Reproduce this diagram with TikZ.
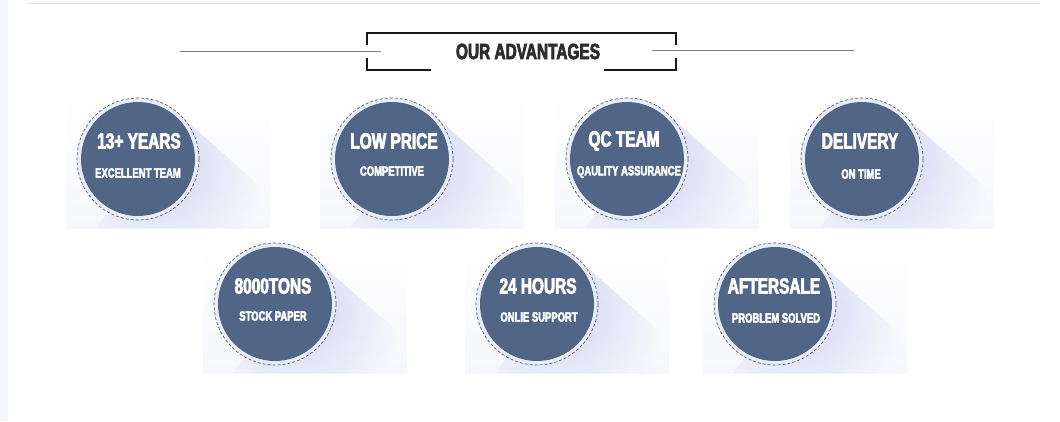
\documentclass[tikz,border=0pt]{standalone}
\usepackage{fontspec}
\setmainfont{Liberation Sans}
\newfontfamily\cond[FakeStretch=0.70,FakeBold=3.2]{Liberation Sans Bold}
\usetikzlibrary{calc,fadings}
\definecolor{disc}{HTML}{516587}
\definecolor{ringc}{HTML}{4F5868}
\definecolor{shadowc}{HTML}{CFD4F1}
\definecolor{haze}{HTML}{F1F2FB}
\definecolor{hazelow}{HTML}{F6F7FC}
\definecolor{halo}{HTML}{E9EDF8}
\definecolor{rulec}{HTML}{76828F}
\tikzfading[name=shadowfade,inner color=transparent!0,outer color=transparent!100]
\tikzset{
  x=1pt,y=1pt,
  discnode/.style={circle,fill=disc,draw=none,minimum size=114pt,inner sep=0pt},
  ringnode/.style={circle,draw=ringc,fill=halo,densely dashed,line width=0.65pt,minimum size=122pt,inner sep=0pt},
  bigtext/.style={text=white,font=\cond\fontsize{22}{24}\selectfont,inner sep=0pt},
  smalltext/.style={text=white,font=\cond\fontsize{13.5}{15}\selectfont,inner sep=0pt},
  titletext/.style={text=black!82,font=\cond\fontsize{22}{24}\selectfont,inner sep=0pt},
  rulerline/.style={draw=rulec,line width=1.8pt},
  bracket/.style={draw=black!90,line width=1.4pt},
}
% #1 name, #2 cx, #3 cy, #4 big text, #5 small text, #6 small-text y offset, #7 big dx, #8 small dx
\newcommand{\badge}[8]{%
  \shade[top color=white,bottom color=hazelow]
    (#2-72,#3-69) rectangle (#2+132,#3+64);
  \begin{scope}
    \clip (#2+43,#3+43) -- (#2+132,#3-36) -- (#2+132,#3-69) -- (#2-42,#3-69) -- cycle;
    \fill[shadowc,path fading=shadowfade] (#2+22,#3-2) circle (108);
  \end{scope}
  \node[ringnode] (#1ring) at (#2,#3) {};
  \node[discnode] (#1disc) at (#2,#3) {};
  \node[bigtext] (#1big) at (#2+#7,#3+18) {#4};
  \node[smalltext] (#1small) at (#2+#8,#3-#6) {#5};
}
\begin{document}
\begin{tikzpicture}
\useasboundingbox (0,0) rectangle (1060,-421);
\fill[white] (0,0) rectangle (1060,-421);
\fill[haze!70] (0,0) rectangle (8,-421);
\draw[black!10,line width=1pt] (26,-3.5) -- (1040,-3.5);

\node[titletext] (title) at (528,-51.5) {OUR ADVANTAGES};
\coordinate (ll) at (180,-51.5);
\coordinate (lr) at (381,-51.5);
\coordinate (rl) at (652,-50.5);
\coordinate (rr) at (854,-50.5);
\draw[bracket] (367,-45) -- (367,-33) -- (676,-33) -- (676,-45);
\draw[bracket] (367,-58) -- (367,-70) -- (431,-70);
\draw[bracket] (604,-70) -- (676,-70) -- (676,-58);
\draw[rulerline] (ll) -- (lr);
\draw[rulerline] (rl) -- (rr);

\badge{a}{138}{-159}{13+ YEARS}{EXCELLENT TEAM}{14}{1}{0}
\badge{b}{392}{-159}{LOW PRICE}{COMPETITIVE}{12}{2}{0}
\badge{c}{627}{-159}{QC TEAM}{QAULITY ASSURANCE}{13}{-3}{2}
\badge{d}{862}{-159}{DELIVERY}{ON TIME}{15}{-2}{-1}
\badge{e}{275}{-304}{8000TONS}{STOCK PAPER}{12}{-2}{-2}
\badge{f}{537}{-304}{24 HOURS}{ONLIE SUPPORT}{13}{1}{2}
\badge{g}{775}{-304}{AFTERSALE}{PROBLEM SOLVED}{14}{-1}{1}
\end{tikzpicture}
\end{document}
